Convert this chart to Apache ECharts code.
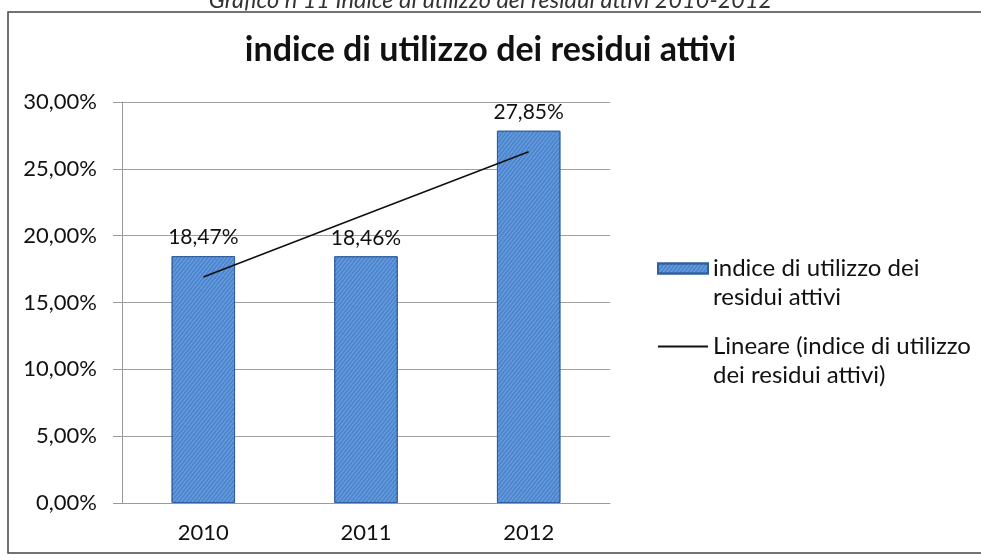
<!DOCTYPE html>
<html>
<head>
<meta charset="utf-8">
<script src="https://cdn.jsdelivr.net/npm/echarts@6/dist/echarts.min.js"></script>
<style>
  html, body { margin: 0; padding: 0; background: #fff; }
  #chart { width: 981px; height: 560px; }
</style>
</head>
<body>
<div id="chart"></div>
<script>
// Years and index values (percent)
const years = ['2010', '2011', '2012'];
const indexValues = [18.47, 18.46, 27.85];
const yTicks = { min: 0, max: 30, step: 5 };

const seriesName = 'indice di utilizzo dei residui attivi';
const trendName = 'Lineare (indice di utilizzo dei residui attivi)';

// Least-squares linear trend over the bar values (x = 1..n)
function linearTrend(values) {
  const n = values.length;
  const xs = values.map((_, i) => i + 1);
  const mx = xs.reduce((a, b) => a + b, 0) / n;
  const my = values.reduce((a, b) => a + b, 0) / n;
  let num = 0, den = 0;
  for (let i = 0; i < n; i++) {
    num += (xs[i] - mx) * (values[i] - my);
    den += (xs[i] - mx) * (xs[i] - mx);
  }
  const slope = num / den;
  return xs.map(x => my + slope * (x - mx));
}
const trendValues = linearTrend(indexValues);

const pct = v => v.toFixed(2).replace('.', ',') + '%';
const FONT = 'Lato, "Noto Sans", sans-serif';
// Legend labels wrap onto two lines; the leading blank line keeps the
// first text line level with the legend icon.
const legendText = {};
legendText[seriesName] = '\nindice di utilizzo dei\nresidui attivi';
legendText[trendName] = '\nLineare (indice di utilizzo\ndei residui attivi)';

const chart = echarts.init(document.getElementById('chart'), null, { renderer: 'canvas' });
chart.setOption({
  backgroundColor: '#ffffff',
  animation: false,
  textStyle: { fontFamily: FONT },
  title: [
    {
      text: 'Grafico n 11 Indice di utilizzo dei residui attivi 2010-2012',
      left: 'center',
      top: -16,
      textStyle: { fontFamily: FONT, fontStyle: 'italic', fontWeight: 'normal', fontSize: 23.5, color: '#333' }
    },
    {
      text: 'indice di utilizzo dei residui attivi',
      left: 'center',
      top: 28,
      textStyle: { fontFamily: FONT, fontWeight: 'bold', fontSize: 34, color: '#111' }
    }
  ],
  graphic: [
    {
      type: 'rect',
      shape: { x: 8, y: 12, width: 1000, height: 541 },
      style: { fill: 'none', stroke: '#444', lineWidth: 1.5 },
      silent: true
    }
  ],
  legend: {
    orient: 'vertical',
    left: 657,
    top: 225,
    padding: 0,
    itemWidth: 50,
    itemHeight: 10,
    itemGap: -9,
    formatter: name => legendText[name],
    textStyle: { fontFamily: FONT, fontSize: 24, color: '#111', lineHeight: 29 },
    data: [
      { name: seriesName, icon: 'rect' },
      { name: trendName, itemStyle: { opacity: 0 } }
    ]
  },
  grid: { left: 122, right: 371, top: 102, bottom: 57 },
  xAxis: {
    type: 'category',
    data: years,
    axisLine: { lineStyle: { color: '#9a9a9a', width: 1 } },
    axisTick: { length: 8, lineStyle: { color: '#9a9a9a' } },
    axisLabel: { fontFamily: FONT, fontSize: 22, color: '#111', margin: 19 }
  },
  yAxis: {
    type: 'value',
    min: yTicks.min,
    max: yTicks.max,
    interval: yTicks.step,
    axisLine: { show: true, lineStyle: { color: '#9a9a9a' } },
    axisTick: { show: true, length: 9, lineStyle: { color: '#9a9a9a' } },
    axisLabel: { fontFamily: FONT, fontSize: 22, color: '#111', margin: 25, formatter: v => pct(v) },
    splitLine: { lineStyle: { color: '#a0a0a0', width: 1 } }
  },
  series: [
    {
      name: seriesName,
      type: 'bar',
      data: indexValues,
      barWidth: '39%',
      itemStyle: {
        color: '#4b85cf',
        borderColor: '#2f5f9e',
        borderWidth: 1,
        decal: {
          symbol: 'rect',
          symbolSize: 1,
          dashArrayX: [1, 0],
          dashArrayY: [1, 2],
          rotation: -0.9,
          color: 'rgba(200,225,255,0.3)'
        }
      },
      label: {
        show: true,
        position: 'top',
        distance: 8,
        fontFamily: FONT,
        fontSize: 21,
        color: '#111',
        formatter: p => pct(p.value)
      }
    },
    {
      name: trendName,
      type: 'line',
      data: trendValues,
      symbol: 'none',
      lineStyle: { color: '#111', width: 1.6 },
      z: 5
    }
  ]
});
</script>
</body>
</html>
